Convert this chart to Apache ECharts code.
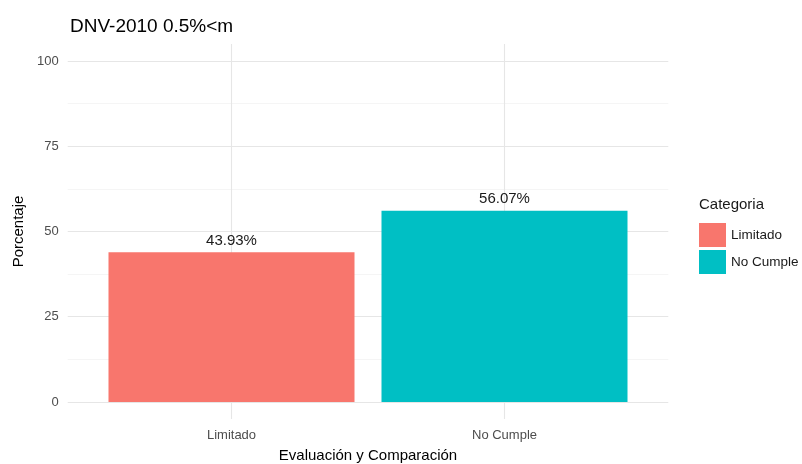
<!DOCTYPE html>
<html>
<head>
<meta charset="utf-8">
<script src="https://cdn.jsdelivr.net/npm/echarts@6/dist/echarts.min.js"></script>
<style>
  html, body { margin: 0; padding: 0; background: #fff; }
  #chart { width: 802px; height: 464px; }
</style>
</head>
<body>
<div id="chart"></div>
<script>
  // datos del grafico
  var categorias = ['Limitado', 'No Cumple'];
  var porcentajes = [43.93, 56.07];
  var colores = ['#F8766D', '#00BFC4'];
  var yTicks = [0, 25, 50, 75, 100];
  var yMinor = [12.5, 37.5, 62.5, 87.5];

  var chart = echarts.init(document.getElementById('chart'));
  var fuente = 'Liberation Sans, Arial, sans-serif';

  // lineas de la cuadricula (estilo theme_minimal)
  var gridLines = [];
  yTicks.forEach(function (v) {
    gridLines.push({ yAxis: v, lineStyle: { color: '#e6e6e6', width: 1.1, type: 'solid' } });
  });
  yMinor.forEach(function (v) {
    gridLines.push({ yAxis: v, lineStyle: { color: '#f0f0f0', width: 0.7, type: 'solid' } });
  });
  categorias.forEach(function (c, i) {
    gridLines.push({ xAxis: i + 1, lineStyle: { color: '#e6e6e6', width: 1.1, type: 'solid' } });
  });

  var series = categorias.map(function (c, i) {
    var s = {
      name: c,
      type: 'bar',
      barWidth: 246,
      barGap: '-100%',
      z: 2,
      itemStyle: { color: colores[i] },
      label: {
        show: true,
        position: 'top',
        distance: 4,
        color: '#1a1a1a',
        fontSize: 15,
        fontFamily: fuente,
        formatter: function (p) { return p.value[1].toFixed(2) + '%'; }
      },
      data: [[i + 1, porcentajes[i]]]
    };
    if (i === 0) {
      s.markLine = {
        silent: true,
        symbol: 'none',
        z: 1,
        label: { show: false },
        animation: false,
        data: gridLines
      };
    }
    return s;
  });

  chart.setOption({
    animation: false,
    backgroundColor: '#ffffff',
    textStyle: { fontFamily: fuente },
    title: [{
      text: 'DNV-2010 0.5%<m',
      left: 65,
      top: 12,
      textStyle: { fontSize: 19, fontWeight: 'normal', color: '#000', fontFamily: fuente }
    }, {
      text: 'Categoria',
      left: 694,
      top: 192,
      textStyle: { fontSize: 15, fontWeight: 'normal', color: '#1a1a1a', fontFamily: fuente }
    }],
    legend: {
      orient: 'vertical',
      left: 694,
      top: 218,
      icon: 'rect',
      itemWidth: 27,
      itemHeight: 24,
      itemGap: 3,
      textStyle: { fontSize: 13.5, color: '#1a1a1a', fontFamily: fuente },
      data: categorias
    },
    grid: { left: 67.7, right: 133.7, top: 44, bottom: 45, outerBoundsMode: 'none' },
    xAxis: {
      type: 'value',
      min: 0.4,
      max: 2.6,
      name: 'Evaluación y Comparación',
      nameLocation: 'middle',
      nameGap: 29,
      nameTextStyle: { fontSize: 15, color: '#000', fontFamily: fuente },
      axisLine: { show: false },
      axisTick: { show: false },
      splitLine: { show: false },
      axisLabel: {
        customValues: [1, 2],
        margin: 10,
        fontSize: 13,
        color: '#4d4d4d',
        fontFamily: fuente,
        formatter: function (v) { return categorias[Math.round(v) - 1] || ''; }
      }
    },
    yAxis: {
      type: 'value',
      min: -5,
      max: 105,
      name: 'Porcentaje',
      nameLocation: 'middle',
      nameGap: 40,
      nameTextStyle: { fontSize: 15, color: '#000', fontFamily: fuente },
      axisLine: { show: false },
      axisTick: { show: false },
      splitLine: { show: false },
      axisLabel: {
        customValues: yTicks,
        margin: 9,
        fontSize: 13,
        color: '#4d4d4d',
        fontFamily: fuente
      }
    },
    series: series
  });
</script>
</body>
</html>
